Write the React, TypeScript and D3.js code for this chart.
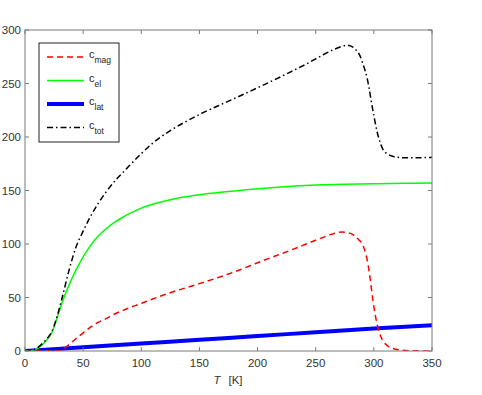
import React from "react";
import { scaleLinear, line, curveMonotoneX } from "d3";

// temperatures (K) and heat capacities
const tMag = [0, 28, 31, 35, 40, 45, 50, 56, 60, 70, 76, 90, 100, 107, 125, 150, 175, 185, 200, 228, 250, 262, 268, 273, 278, 283, 287, 290, 293, 295, 297, 299, 301, 303, 306, 311, 316, 322, 330, 340, 350];
const cMag = [0, 0, 0.5, 3.5, 8, 12.5, 17, 22, 25, 30.5, 34, 40.5, 44.5, 47.5, 54.5, 63, 72, 76, 82.5, 94, 103.5, 108.5, 110.5, 111.2, 110.5, 108, 104, 100, 91, 81, 66, 49, 35, 24, 13.5, 5.5, 2.5, 1, 0.3, 0.1, 0];

const tEl = [0, 5, 10, 15, 20, 23, 27, 32.5, 38, 44, 50, 56, 63, 70, 76, 84, 92, 100, 116, 132, 150, 175, 193, 220, 245, 275, 300, 325, 350];
const cEl = [0, 0.3, 2, 6, 12, 17, 29, 47, 62, 76, 88, 98, 107.5, 114.5, 119.5, 125, 129.5, 133.5, 139, 143, 146, 149, 151, 153.3, 154.8, 155.8, 156.3, 156.7, 157];

const tLat = [0, 50, 100, 150, 200, 250, 300, 350];
const cLat = [0, 3.5, 7, 10.5, 14, 17.5, 21, 24];

const tTot = [0, 5, 10, 15, 20, 23, 27, 32, 38, 43.5, 50, 56, 63, 70, 79, 84, 90, 100, 109, 116, 125, 150, 175, 200, 225, 245, 255, 265, 272, 277, 282, 285, 288, 291, 294, 296, 298, 300, 303, 306, 308, 312, 316, 320, 330, 350];
const cTot = [0, 0.3, 2.5, 7, 13, 18, 30, 50, 76, 96, 112, 125, 138, 149, 161, 166.5, 173.5, 184.5, 193.5, 199.5, 206, 221, 233.5, 246, 259, 270, 276, 281.5, 284.5, 285.8, 284, 281, 276, 267, 256, 245, 232, 220, 204, 193, 188, 184, 182, 181, 180.5, 181];

const xTicks = [0, 50, 100, 150, 200, 250, 300, 350];
const yTicks = [0, 50, 100, 150, 200, 250, 300];

const legendItems = [
  { sub: "mag", color: "#ff0000", width: 1.5, dash: "6,4" },
  { sub: "el", color: "#00ff00", width: 1.5, dash: null },
  { sub: "lat", color: "#0000ff", width: 4, dash: null },
  { sub: "tot", color: "#000000", width: 1.5, dash: "6,3,1.5,3" },
];

const W = 482;
const H = 395;
const left = 25;
const right = 432;
const top = 30;
const bottom = 351;

export default function App() {
  const x = scaleLinear().domain([0, 350]).range([left, right]);
  const y = scaleLinear().domain([0, 300]).range([bottom, top]);

  const path = (ts: number[], vs: number[]) =>
    line<number>()
      .x((d) => x(d))
      .y((_, i) => y(vs[i]))
      .curve(curveMonotoneX)(ts) || "";

  const series = [
    { d: path(tLat, cLat), ...legendItems[2] },
    { d: path(tEl, cEl), ...legendItems[1] },
    { d: path(tMag, cMag), ...legendItems[0] },
    { d: path(tTot, cTot), ...legendItems[3] },
  ];

  const axisColor = "#7a7a7a";
  const font = "'Liberation Sans', Arial, sans-serif";

  return (
    <svg
      width={W}
      height={H}
      style={{ position: "absolute", left: 0, top: 0, background: "#fff" }}
      fontFamily={font}
    >
      <defs>
        <clipPath id="plot">
          <rect x={left} y={top} width={right - left} height={bottom - top} />
        </clipPath>
      </defs>

      <g clipPath="url(#plot)">
        {series.map((s) => (
          <path
            key={s.sub}
            d={s.d}
            fill="none"
            stroke={s.color}
            strokeWidth={s.width}
            strokeDasharray={s.dash || undefined}
          />
        ))}
      </g>

      <rect
        x={left}
        y={top}
        width={right - left}
        height={bottom - top}
        fill="none"
        stroke={axisColor}
        strokeWidth={1}
      />

      {xTicks.map((t) => (
        <g key={"x" + t}>
          <line x1={x(t)} x2={x(t)} y1={bottom} y2={bottom - 4} stroke={axisColor} />
          <line x1={x(t)} x2={x(t)} y1={top} y2={top + 4} stroke={axisColor} />
          <text x={x(t)} y={bottom + 16} textAnchor="middle" fontSize={11.5} fill="#333">
            {t}
          </text>
        </g>
      ))}

      {yTicks.map((t) => (
        <g key={"y" + t}>
          <line x1={left} x2={left + 4} y1={y(t)} y2={y(t)} stroke={axisColor} />
          <line x1={right} x2={right - 4} y1={y(t)} y2={y(t)} stroke={axisColor} />
          <text x={left - 4} y={y(t) + 4} textAnchor="end" fontSize={11.5} fill="#333">
            {t}
          </text>
        </g>
      ))}

      <text x={228} y={384} textAnchor="middle" fontSize={11.5} fill="#333">
        <tspan fontStyle="italic">T</tspan>
        <tspan dx={8}>[K]</tspan>
      </text>

      <rect x={39} y={43} width={80} height={99} fill="#fff" stroke="#222" strokeWidth={1} />
      {legendItems.map((item, i) => {
        const ly = 57 + i * 23.5;
        return (
          <g key={item.sub}>
            <line
              x1={47}
              x2={84}
              y1={ly}
              y2={ly}
              stroke={item.color}
              strokeWidth={item.width}
              strokeDasharray={item.dash || undefined}
            />
            <text x={89} y={ly + 1} fontSize={11} fill="#222">
              c
              <tspan dy={5} fontSize={8.5}>
                {item.sub}
              </tspan>
            </text>
          </g>
        );
      })}
    </svg>
  );
}
